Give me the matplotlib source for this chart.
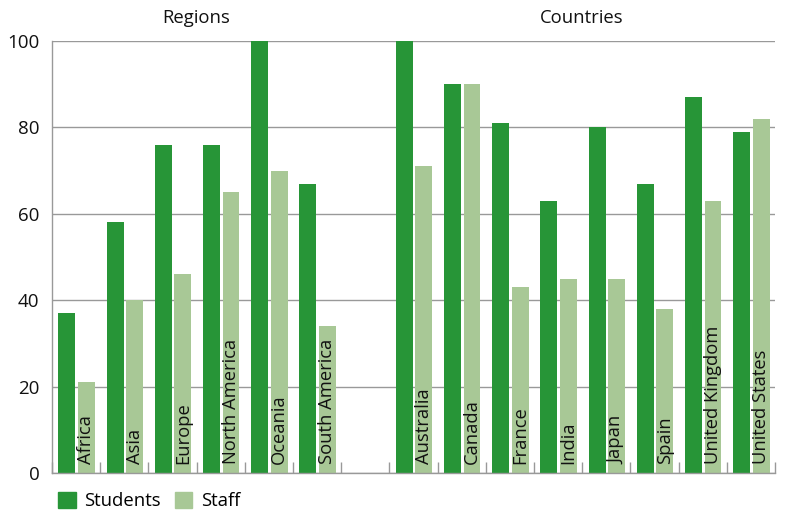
import matplotlib.pyplot as plt
import matplotlib.patches as mpatches
import numpy as np

plt.rcParams['font.family'] = ['Open Sans', 'DejaVu Sans']

regions = ["Africa", "Asia", "Europe", "North America", "Oceania", "South America"]
regions_students = [37, 58, 76, 76, 100, 67]
regions_staff = [21, 40, 46, 65, 70, 34]

countries = ["Australia", "Canada", "France", "India", "Japan", "Spain",
             "United Kingdom", "United States"]
countries_students = [100, 90, 81, 63, 80, 67, 87, 79]
countries_staff = [71, 90, 43, 45, 45, 38, 63, 82]

yticks = [0, 20, 40, 60, 80, 100]

dark = "#279537"
light = "#a8c896"
grey = "#999999"

# one empty slot between the two groups
labels = regions + [""] + countries
students = regions_students + [0] + countries_students
staff = regions_staff + [0] + countries_staff
n = len(labels)
slots = np.arange(n)

fig = plt.figure(figsize=(7.85, 5.23), dpi=100)
ax = fig.add_axes([0.0662, 0.0956, 0.9210, 0.826])

w = 0.35
ax.bar(slots + 0.31, students, width=w, color=dark, zorder=2)
ax.bar(slots + 0.715, staff, width=w, color=light, zorder=2)

for i, lab in enumerate(labels):
    if lab:
        ax.text(i + 0.715, 2.0, lab, rotation=90, ha='center', va='bottom',
                fontsize=13.2, color="#111111", zorder=3)

ax.set_xlim(0, n)
ax.set_ylim(0, 100)
ax.set_yticks(yticks)
ax.set_yticklabels([str(v) for v in yticks], fontsize=13.5, color="#111111")
ax.tick_params(axis='y', length=0, pad=9)
ax.set_xticks(np.arange(0, n + 1))
ax.set_xticklabels([])
ax.tick_params(axis='x', direction='in', length=8, color=grey, width=1)
ax.yaxis.grid(True, color=grey, linewidth=1, zorder=0)
ax.set_axisbelow(True)
for s in ['top', 'right']:
    ax.spines[s].set_visible(False)
for s in ['left', 'bottom']:
    ax.spines[s].set_color(grey)
    ax.spines[s].set_linewidth(1)

ax.text(len(regions) / 2, 103.2, "Regions", ha='center', va='bottom',
        fontsize=13.3, color="#111111")
ax.text(len(regions) + 1 + len(countries) / 2, 103.2, "Countries", ha='center',
        va='bottom', fontsize=13.3, color="#111111")

handles = [mpatches.Patch(color=dark, label="Students"),
           mpatches.Patch(color=light, label="Staff")]
fig.legend(handles=handles, loc='lower left', bbox_to_anchor=(0.058, 0.0), ncol=2,
           frameon=False, fontsize=13.3, handlelength=0.95, handleheight=0.95,
           handletextpad=0.45, columnspacing=0.75, borderaxespad=0.3)

fig.savefig("out.png", dpi=100)
